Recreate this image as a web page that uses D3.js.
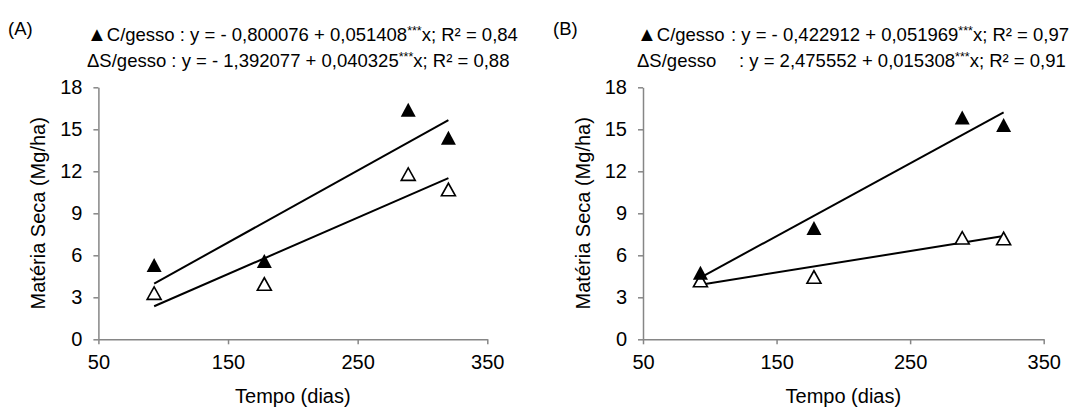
<!DOCTYPE html>
<html>
<head>
<meta charset="utf-8">
<script src="https://cdn.jsdelivr.net/npm/d3@7"></script>
<style>
  html, body { margin: 0; padding: 0; background: #fff; }
  svg { display: block; font-family: "Liberation Sans", Arial, sans-serif; }
</style>
</head>
<body>
<svg id="chart" width="1082" height="408"></svg>
<script>
// ---- data ----
const days = [93, 178, 289, 320];
const xTicks = [50, 150, 250, 350];
const yTicks = [0, 3, 6, 9, 12, 15, 18];

const cGessoA = [5.3, 5.6, 16.4, 14.4];
const sGessoA = [3.3, 3.95, 11.8, 10.7];
const cGessoB = [4.75, 7.95, 15.85, 15.3];
const sGessoB = [4.2, 4.45, 7.25, 7.2];

// regression coefficients [intercept, slope]
const fitCA = [-0.800076, 0.051408];
const fitSA = [-1.392077, 0.040325];
const fitCB = [-0.422912, 0.051969];
const fitSB = [2.475552, 0.015308];

const panelLabels = ["(A)", "(B)"];
const legendC = ["C/gesso", "C/gesso"];
const legendS = ["S/gesso", "S/gesso"];
const eqC = [
  [": y = - 0,800076 + 0,051408", "***", "x; R² = 0,84"],
  [": y = - 0,422912 + 0,051969", "***", "x; R² = 0,97"]
];
const eqS = [
  [": y = - 1,392077 + 0,040325", "***", "x; R² = 0,88"],
  [": y = 2,475552 + 0,015308", "***", "x; R² = 0,91"]
];
const xTitle = "Tempo (dias)";
const yTitle = "Matéria Seca (Mg/ha)";

// ---- layout ----
const svg = d3.select("#chart");
const axisColor = "#868686";
const panels = [
  { xr: [98.4, 487.3], c: cGessoA, s: sGessoA, fc: fitCA, fs: fitSA,
    labelX: 8, triX: 87, eqX1: null, eqX2: null },
  { xr: [643, 1043.7], c: cGessoB, s: sGessoB, fc: fitCB, fs: fitSB,
    labelX: 553, triX: 637, eqX1: 731, eqX2: 739 }
];
const yr = [339.3, 87.3];

function triPath(cx, cy, w, h) {
  const p = d3.path();
  p.moveTo(cx, cy - h / 2);
  p.lineTo(cx + w / 2, cy + h / 2);
  p.lineTo(cx - w / 2, cy + h / 2);
  p.closePath();
  return p.toString();
}

panels.forEach((P, i) => {
  const x = d3.scaleLinear().domain([50, 350]).range(P.xr);
  const y = d3.scaleLinear().domain([0, 18]).range(yr);
  const g = svg.append("g");

  // axes
  const xAxis = d3.axisBottom(x).tickValues(xTicks).tickSize(5).tickSizeOuter(0).tickPadding(11);
  const gx = g.append("g").attr("transform", `translate(0,${yr[0]})`).call(xAxis);
  const yAxis = d3.axisLeft(y).tickValues(yTicks).tickSize(5).tickSizeOuter(0).tickPadding(11);
  const gy = g.append("g").attr("transform", `translate(${P.xr[0]},0)`).call(yAxis);
  [gx, gy].forEach(a => {
    a.select(".domain").attr("stroke", axisColor).attr("stroke-width", 1.5);
    a.selectAll(".tick line").attr("stroke", axisColor).attr("stroke-width", 1.5);
    a.selectAll(".tick text").attr("fill", "#000").style("font-size", "20px")
      .style("font-family", '"Liberation Sans", Arial, sans-serif');
  });

  // axis titles
  g.append("text").attr("x", (P.xr[0] + P.xr[1]) / 2).attr("y", 403)
    .attr("text-anchor", "middle").style("font-size", "20px").text(xTitle);
  g.append("text")
    .attr("transform", `translate(${P.xr[0] - 53},${(yr[0] + yr[1]) / 2}) rotate(-90)`)
    .attr("text-anchor", "middle").style("font-size", "20px").text(yTitle);

  // regression lines
  const xmin = d3.min(days), xmax = d3.max(days);
  [P.fc, P.fs].forEach(f => {
    g.append("line")
      .attr("x1", x(xmin)).attr("y1", y(f[0] + f[1] * xmin))
      .attr("x2", x(xmax)).attr("y2", y(f[0] + f[1] * xmax))
      .attr("stroke", "#000").attr("stroke-width", 2);
  });

  // markers
  g.selectAll(".open").data(days.map((d, k) => [d, P.s[k]])).join("path")
    .attr("d", d => triPath(x(d[0]), y(d[1]), 14, 12.5))
    .attr("fill", "#fff").attr("stroke", "#000").attr("stroke-width", 1.6);
  g.selectAll(".filled").data(days.map((d, k) => [d, P.c[k]])).join("path")
    .attr("d", d => triPath(x(d[0]), y(d[1]), 15, 14))
    .attr("fill", "#000");

  // panel label
  g.append("text").attr("x", P.labelX).attr("y", 35).style("font-size", "18.5px").text(panelLabels[i]);

  // legend
  const rows = [
    { glyph: "▲", label: legendC[i], eq: eqC[i], y: 41, ex: P.eqX1 },
    { glyph: "Δ", label: legendS[i], eq: eqS[i], y: 67, ex: P.eqX2 }
  ];
  rows.forEach(r => {
    const lt = g.append("text").attr("x", P.triX).attr("y", r.y).style("font-size", "18.5px");
    lt.append("tspan").style("font-size", r.glyph === "▲" ? "20px" : "18.5px").text(r.glyph);
    lt.append("tspan").text(r.label + (r.ex === null ? " " : ""));
    let t;
    if (r.ex === null) {
      t = lt;
    } else {
      t = g.append("text").attr("x", r.ex).attr("y", r.y).style("font-size", "18.5px");
    }
    t.append("tspan").text(r.eq[0]);
    t.append("tspan").attr("dy", -6).style("font-size", "12.5px").text(r.eq[1]);
    t.append("tspan").attr("dy", 6).text(r.eq[2]);
  });
});
</script>
</body>
</html>
